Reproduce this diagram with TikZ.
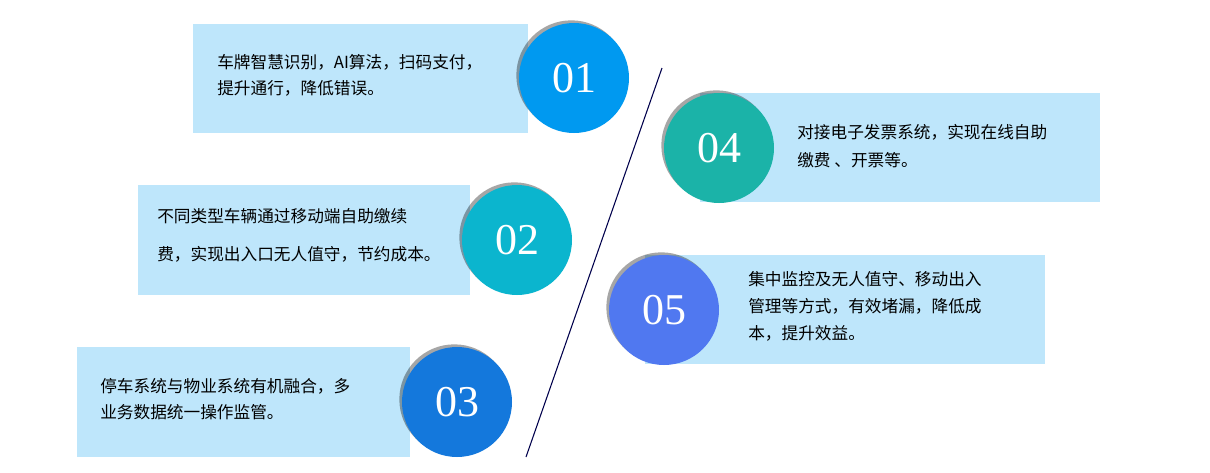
\documentclass[tikz,border=0pt]{standalone}
\usepackage{fontspec}
\setmainfont{Liberation Serif}
\newfontfamily\cjk{Noto Sans CJK SC}
\usetikzlibrary{shadows}
\definecolor{boxc}{HTML}{BEE6FB}
\definecolor{c1}{HTML}{0099F0}
\definecolor{c2}{HTML}{0BB5CE}
\definecolor{c3}{HTML}{1478DC}
\definecolor{c4}{HTML}{1BB3A8}
\definecolor{c5}{HTML}{5078F0}
\begin{document}
\begin{tikzpicture}[x=0.75pt,y=-0.75pt,
  bx/.style={fill=boxc,draw=none},
  num/.style={circle,minimum size=82.5pt,inner sep=0pt,text=white,font=\fontsize{33}{33}\selectfont,
    drop shadow={shadow xshift=-2pt,shadow yshift=2pt,fill=black,opacity=0.35}},
  txt/.style={anchor=west,inner sep=0pt,font=\cjk\fontsize{12.5}{12.5}\selectfont,align=left}]
\useasboundingbox (0,0) rectangle (1210,472);
\fill[white] (0,0) rectangle (1210,472);
\fill[bx] (193,24) rectangle (528,133);
\fill[bx] (138,185) rectangle (470,295);
\fill[bx] (77,347) rectangle (410,457);
\fill[bx] (700,93) rectangle (1100,202);
\fill[bx] (645,255) rectangle (1045,364);
\coordinate (la) at (662,68); \coordinate (lb) at (526,457);
\draw[color=black!70!blue,line width=0.8pt] (la) -- (lb);
\node[num,fill=c1] (n1) at (574,78) {01};
\node[num,fill=c2] (n2) at (517,240) {02};
\node[num,fill=c3] (n3) at (457,402) {03};
\node[num,fill=c4] (n4) at (719,148) {04};
\node[num,fill=c5] (n5) at (664,310) {05};
\node[txt] (t1a) at (217,62) {车牌智慧识别，\textit{AI}算法，扫码支付，};
\node[txt] (t1b) at (217,88) {提升通行，降低错误。};
\node[txt] (t2a) at (157,216) {不同类型车辆通过移动端自助缴续};
\node[txt] (t2b) at (157,254) {费，实现出入口无人值守，节约成本。};
\node[txt] (t3a) at (100,386) {停车系统与物业系统有机融合，多};
\node[txt] (t3b) at (100,412) {业务数据统一操作监管。};
\node[txt] (t4a) at (797,132) {对接电子发票系统，实现在线自助};
\node[txt] (t4b) at (797,160) {缴费 、开票等。};
\node[txt] (t5a) at (748,279) {集中监控及无人值守、移动出入};
\node[txt] (t5b) at (748,306) {管理等方式，有效堵漏，降低成};
\node[txt] (t5c) at (748,333) {本，提升效益。};
\end{tikzpicture}
\end{document}
